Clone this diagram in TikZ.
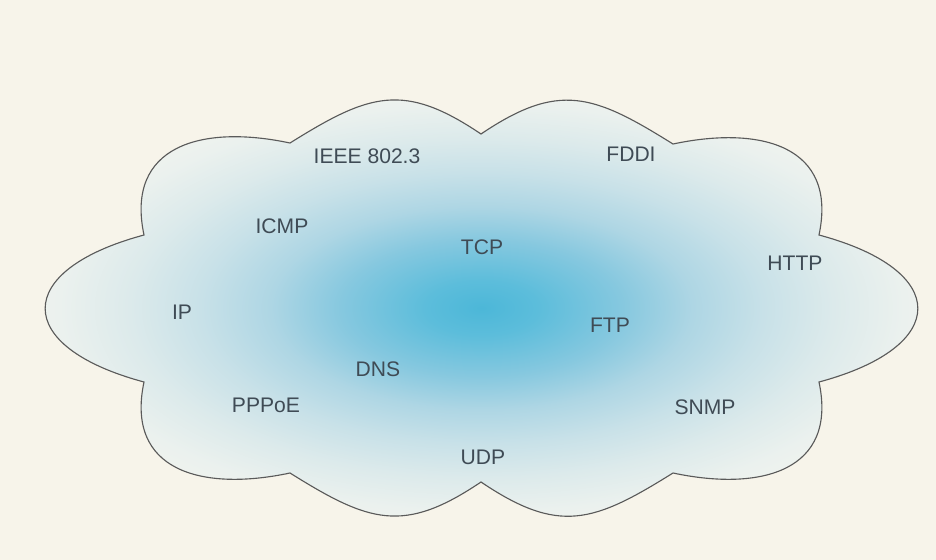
\documentclass[tikz,border=0pt]{standalone}
\usepackage{fontspec}
\setmainfont{Liberation Sans}
\definecolor{bgcream}{HTML}{F7F4EA}
\definecolor{labelgray}{HTML}{3F4B55}
\definecolor{cloudedge}{HTML}{5A5A5A}
\definecolor{glowA}{HTML}{4CB7D8}
\definecolor{glowB}{HTML}{5CBDDB}
\definecolor{glowC}{HTML}{86C8DF}
\definecolor{glowD}{HTML}{AED6E4}
\definecolor{glowE}{HTML}{C8E1E8}
\definecolor{glowF}{HTML}{DCEAEB}
\definecolor{glowG}{HTML}{EBF1EE}
\definecolor{glowH}{HTML}{F0F3EE}
% 25bp = rim of the shaded box
\pgfdeclareradialshading{cloudglow}{\pgfpoint{0bp}{0bp}}{%
  color(0bp)=(glowA); color(3bp)=(glowB); color(7.5bp)=(glowC);
  color(11.25bp)=(glowD); color(15bp)=(glowE); color(18.75bp)=(glowF);
  color(22.5bp)=(glowG); color(25bp)=(glowH); color(50bp)=(glowH)}
\tikzset{
  proto/.style={text=labelgray, font=\fontsize{15}{18}\selectfont, inner sep=0pt},
  cloudshape/.style={draw=cloudedge, line width=0.8pt,
    path picture={\shade[shading=cloudglow] (44.5,-99.5) rectangle (918.5,-517.5);}}
}
\begin{document}
\begin{tikzpicture}[x=0.025cm, y=0.025cm]
    \useasboundingbox (0,0) rectangle (936,-560);
    % background
    \path[fill=bgcream] (0,0) rectangle (936,-560);

    % cusps of the cloud
    \coordinate (c1) at (290,-143);
    \coordinate (c2) at (481,-134);
    \coordinate (c3) at (673,-144);
    \coordinate (c4) at (819,-235);
    \coordinate (c5) at (819,-382);
    \coordinate (c6) at (673,-473);
    \coordinate (c7) at (481,-482);
    \coordinate (c8) at (290,-473);
    \coordinate (c9) at (144,-382);
    \coordinate (c10) at (144,-235);

    \path[cloudshape] (c1) to[out=32,in=146,looseness=1.25] (c2)
        to[out=34,in=148,looseness=1.25] (c3)
        to[out=12,in=78,looseness=1.35] (c4)
        to[out=-15,in=15,looseness=2.38] (c5)
        to[out=-78,in=-12,looseness=1.35] (c6)
        to[out=-148,in=-34,looseness=1.25] (c7)
        to[out=-146,in=-32,looseness=1.25] (c8)
        to[out=192,in=258,looseness=1.35] (c9)
        to[out=165,in=195,looseness=2.38] (c10)
        to[out=102,in=168,looseness=1.35] (c1) -- cycle;

    % protocols
    \node[proto] (ieee) at (367,-156) {IEEE 802.3};
    \node[proto] (fddi) at (631,-154) {FDDI};
    \node[proto] (icmp) at (282,-226) {ICMP};
    \node[proto] (tcp) at (482,-247) {TCP};
    \node[proto] (http) at (795,-263) {HTTP};
    \node[proto] (ip) at (182,-312) {IP};
    \node[proto] (ftp) at (610,-325) {FTP};
    \node[proto] (dns) at (378,-369) {DNS};
    \node[proto] (pppoe) at (266,-405) {PPPoE};
    \node[proto] (snmp) at (705,-407) {SNMP};
    \node[proto] (udp) at (483,-457) {UDP};
\end{tikzpicture}
\end{document}
